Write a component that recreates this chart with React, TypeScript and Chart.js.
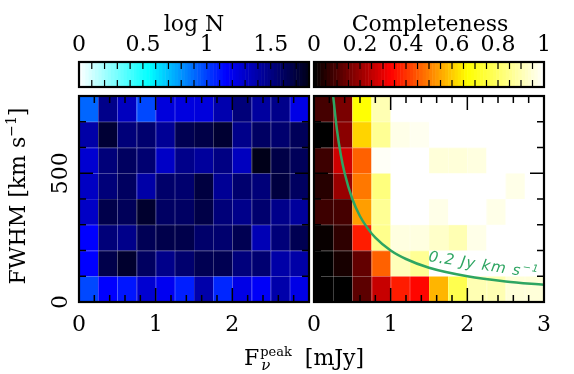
import { useEffect, useRef } from 'react';
import { Chart, registerables } from 'chart.js';
Chart.register(...registerables);

// ---------- data ----------
// lower edges of the peak-flux bins [mJy] and FWHM bins [km/s]
const FLUX_BINS = [0, 0.25, 0.5, 0.75, 1.0, 1.25, 1.5, 1.75, 2.0, 2.25, 2.5, 2.75];
const FLUX_BIN_WIDTH = 0.25;
const FWHM_BINS = [0, 100, 200, 300, 400, 500, 600, 700];
const FWHM_BIN_WIDTH = 100;

// log N per cell, one row per FWHM bin (0-100 first)
const LOG_N_0 = [0.98, 1.15, 1.1, 1.28, 1.19, 1.08, 1.39, 1.06, 1.22, 1.17, 1.39, 1.22];
const LOG_N_100 = [1.15, 1.66, 1.74, 1.6, 1.48, 1.56, 1.64, 1.64, 1.52, 1.55, 1.4, 1.4];
const LOG_N_200 = [1.15, 1.53, 1.48, 1.63, 1.66, 1.66, 1.57, 1.56, 1.64, 1.36, 1.53, 1.64];
const LOG_N_300 = [1.31, 1.66, 1.62, 1.74, 1.59, 1.59, 1.67, 1.53, 1.48, 1.56, 1.48, 1.43];
const LOG_N_400 = [1.32, 1.53, 1.6, 1.4, 1.57, 1.56, 1.69, 1.45, 1.56, 1.53, 1.69, 1.6];
const LOG_N_500 = [1.28, 1.53, 1.6, 1.55, 1.31, 1.48, 1.43, 1.5, 1.33, 1.8, 1.67, 1.62];
const LOG_N_600 = [1.4, 1.72, 1.53, 1.56, 1.45, 1.64, 1.67, 1.73, 1.48, 1.59, 1.56, 1.62];
const LOG_N_700 = [0.91, 1.48, 1.33, 0.98, 1.25, 1.24, 1.25, 1.38, 1.53, 1.42, 1.48, 1.22];
const LOG_N_ROWS = [LOG_N_0, LOG_N_100, LOG_N_200, LOG_N_300, LOG_N_400, LOG_N_500, LOG_N_600, LOG_N_700];

// completeness per cell, one row per FWHM bin (0-100 first)
const COMP_0 = [0.0, 0.0, 0.12, 0.26, 0.37, 0.34, 0.57, 0.77, 0.9, 0.9, 0.95, 0.95];
const COMP_100 = [0.0, 0.03, 0.13, 0.46, 0.91, 0.86, 1, 1, 1, 1, 1, 1];
const COMP_200 = [0.01, 0.06, 0.37, 0.85, 0.96, 0.96, 0.93, 0.9, 0.97, 1, 1, 1];
const COMP_300 = [0.08, 0.09, 0.54, 0.86, 1, 1, 0.97, 1, 1, 0.97, 1, 1];
const COMP_400 = [0.05, 0.2, 0.49, 0.83, 1, 1, 1, 1, 1, 1, 0.97, 1];
const COMP_500 = [0.08, 0.27, 0.46, 0.99, 1, 1, 0.95, 0.95, 0.96, 1, 1, 1];
const COMP_600 = [0.0, 0.18, 0.61, 0.86, 0.97, 0.98, 1, 1, 1, 1, 1, 1];
const COMP_700 = [0.09, 0.16, 0.67, 0.9, 1, 1, 1, 1, 1, 1, 1, 1];
const COMP_ROWS = [COMP_0, COMP_100, COMP_200, COMP_300, COMP_400, COMP_500, COMP_600, COMP_700];

// 0.2 Jy km/s line
const CURVE_FLUX = [0.25, 0.3, 0.35, 0.4, 0.5, 0.6, 0.7, 0.8, 1.0, 1.2, 1.5, 2.0, 2.5, 3.0];
const CURVE_FWHM = [800, 667, 571, 500, 400, 333, 286, 250, 200, 167, 133, 100, 80, 67];
const CURVE_LABEL = '0.2 Jy km s';

// ticks / labels
const X_TICKS_LEFT = ['0', '1', '2'];
const X_TICKS_RIGHT = ['0', '1', '2', '3'];
const Y_TICKS = ['0', '500'];
const CB_LEFT_TICKS = ['0', '0.5', '1', '1.5'];
const CB_RIGHT_TICKS = ['0', '0.2', '0.4', '0.6', '0.8', '1'];
const CB_LEFT_TITLE = 'log N';
const CB_RIGHT_TITLE = 'Completeness';
const X_RANGE = [0, 3];
const Y_RANGE = [0, 800];
const LOG_N_RANGE = [0, 1.8];
const COMP_RANGE = [0, 1];

// ---------- styles ----------
const SERIF = '"DejaVu Serif", serif';
const GREEN = '#2ea562';
type Stop = [number, number[]];
const BLUE_STOPS: Stop[] = [[0, [255, 255, 255]], [0.55, [0, 255, 255]], [1.15, [0, 0, 255]], [1.8, [0, 0, 25]]];
const HOT_STOPS: Stop[] = [[0, [0, 0, 0]], [1 / 3, [255, 0, 0]], [2 / 3, [255, 255, 0]], [1, [255, 255, 255]]];

function cmap(stops: Stop[], v: number) {
  if (v <= stops[0][0]) return `rgb(${stops[0][1].join(',')})`;
  for (let i = 1; i < stops.length; i++) {
    if (v <= stops[i][0]) {
      const [a, ca] = stops[i - 1];
      const [b, cb] = stops[i];
      const t = (v - a) / (b - a);
      const c = ca.map((x, k) => Math.round(x + (cb[k] - x) * t));
      return `rgb(${c.join(',')})`;
    }
  }
  return `rgb(${stops[stops.length - 1][1].join(',')})`;
}

function drawHeat(chart: any, rows: number[][], stops: Stop[]) {
  const { ctx } = chart;
  const xs = chart.scales.x;
  const ys = chart.scales.y;
  ctx.save();
  rows.forEach((row, j) => {
    row.forEach((v, i) => {
      const x0 = xs.getPixelForValue(FLUX_BINS[i]);
      const x1 = xs.getPixelForValue(FLUX_BINS[i] + FLUX_BIN_WIDTH);
      const y0 = ys.getPixelForValue(FWHM_BINS[j] + FWHM_BIN_WIDTH);
      const y1 = ys.getPixelForValue(FWHM_BINS[j]);
      ctx.fillStyle = cmap(stops, v);
      ctx.fillRect(x0, y0, x1 - x0, y1 - y0);
    });
  });
  ctx.strokeStyle = 'rgba(255,255,255,0.13)';
  ctx.lineWidth = 1;
  const a = chart.chartArea;
  ctx.beginPath();
  FLUX_BINS.forEach((f) => {
    const x = Math.round(xs.getPixelForValue(f)) + 0.5;
    ctx.moveTo(x, a.top);
    ctx.lineTo(x, a.bottom);
  });
  FWHM_BINS.forEach((w) => {
    const y = Math.round(ys.getPixelForValue(w)) + 0.5;
    ctx.moveTo(a.left, y);
    ctx.lineTo(a.right, y);
  });
  ctx.stroke();
  ctx.restore();
}

function drawFrameAndTicks(chart: any) {
  const { ctx, chartArea: a } = chart;
  const xs = chart.scales.x;
  const ys = chart.scales.y;
  ctx.save();
  ctx.strokeStyle = '#000';
  ctx.lineWidth = 1.5;
  ctx.beginPath();
  for (let k = 1; k < 15; k++) {
    const v = k * 0.2;
    const major = k % 5 === 0;
    const len = major ? 14 : 7;
    const x = xs.getPixelForValue(v);
    ctx.moveTo(x, a.bottom);
    ctx.lineTo(x, a.bottom - len);
    ctx.moveTo(x, a.top);
    ctx.lineTo(x, a.top + len);
  }
  for (let k = 1; k < 8; k++) {
    const v = k * 100;
    const len = v === 500 ? 14 : 7;
    const y = ys.getPixelForValue(v);
    ctx.moveTo(a.left, y);
    ctx.lineTo(a.left + len, y);
    ctx.moveTo(a.right, y);
    ctx.lineTo(a.right - len, y);
  }
  ctx.stroke();
  ctx.lineWidth = 2.2;
  ctx.strokeRect(a.left, a.top, a.right - a.left, a.bottom - a.top);
  ctx.restore();
}

function drawColorbar(chart: any, stops: Stop[], range: number[], tickStep: number, labels: string[], title: string, titleX: number) {
  const { ctx, chartArea: a } = chart;
  const xc = chart.scales.xc;
  const top = a.top - 34;
  const bot = a.top - 9;
  ctx.save();
  const N = 72;
  for (let k = 0; k < N; k++) {
    const v0 = range[0] + ((range[1] - range[0]) * k) / N;
    const v1 = range[0] + ((range[1] - range[0]) * (k + 1)) / N;
    const x0 = xc.getPixelForValue(v0);
    const x1 = xc.getPixelForValue(v1);
    ctx.fillStyle = cmap(stops, (v0 + v1) / 2);
    ctx.fillRect(x0, top, x1 - x0 + 0.5, bot - top);
  }
  ctx.strokeStyle = '#000';
  ctx.lineWidth = 1.2;
  ctx.beginPath();
  const nT = Math.round((range[1] - range[0]) / tickStep);
  for (let k = 1; k < nT; k++) {
    const x = xc.getPixelForValue(range[0] + k * tickStep);
    ctx.moveTo(x, top);
    ctx.lineTo(x, top + 7);
    ctx.moveTo(x, bot);
    ctx.lineTo(x, bot - 7);
  }
  ctx.stroke();
  ctx.lineWidth = 2.2;
  ctx.strokeRect(xc.left, top, xc.right - xc.left, bot - top);
  ctx.fillStyle = '#000';
  ctx.font = `22px ${SERIF}`;
  ctx.textAlign = 'center';
  ctx.textBaseline = 'alphabetic';
  labels.forEach((l) => {
    ctx.fillText(l, xc.getPixelForValue(parseFloat(l)), top - 11);
  });
  ctx.fillText(title, titleX, 31);
  ctx.restore();
}

function drawXLabels(chart: any, labels: string[]) {
  const { ctx, chartArea: a } = chart;
  const xs = chart.scales.x;
  ctx.save();
  ctx.fillStyle = '#000';
  ctx.font = `22px ${SERIF}`;
  ctx.textAlign = 'center';
  ctx.textBaseline = 'alphabetic';
  labels.forEach((l) => ctx.fillText(l, xs.getPixelForValue(parseFloat(l)), a.bottom + 29));
  ctx.restore();
}

function drawSup(ctx: any, parts: { t: string; size: number; dy: number }[], startX: number, y: number) {
  let x = startX;
  parts.forEach((p) => {
    ctx.font = `${p.size}px ${SERIF}`;
    ctx.fillText(p.t, x, y + p.dy);
    x += ctx.measureText(p.t).width;
  });
}

const leftPlugin = {
  id: 'leftPanel',
  beforeDatasetsDraw(chart: any) {
    drawHeat(chart, LOG_N_ROWS, BLUE_STOPS);
  },
  afterDraw(chart: any) {
    drawFrameAndTicks(chart);
    drawColorbar(chart, BLUE_STOPS, LOG_N_RANGE, 0.1, CB_LEFT_TICKS, CB_LEFT_TITLE, 194);
    drawXLabels(chart, X_TICKS_LEFT);
    const { ctx, chartArea: a } = chart;
    const ys = chart.scales.y;
    ctx.save();
    ctx.fillStyle = '#000';
    ctx.textBaseline = 'alphabetic';
    // y tick labels (rotated)
    Y_TICKS.forEach((l) => {
      ctx.save();
      ctx.translate(a.left - 12, ys.getPixelForValue(parseFloat(l)));
      ctx.rotate(-Math.PI / 2);
      ctx.font = `22px ${SERIF}`;
      ctx.textAlign = 'center';
      ctx.fillText(l, 0, 0);
      ctx.restore();
    });
    // y title
    ctx.save();
    ctx.translate(25, 196);
    ctx.rotate(-Math.PI / 2);
    ctx.textAlign = 'left';
    const yParts = [
      { t: 'FWHM [km s', size: 22, dy: 0 },
      { t: '\u22121', size: 14, dy: -9 },
      { t: ']', size: 22, dy: 0 },
    ];
    let w = 0;
    yParts.forEach((p) => {
      ctx.font = `${p.size}px ${SERIF}`;
      w += ctx.measureText(p.t).width;
    });
    drawSup(ctx, yParts, -w / 2, 0);
    ctx.restore();
    // x title: F_nu^peak [mJy]
    ctx.textAlign = 'left';
    ctx.font = `22px ${SERIF}`;
    const wF = ctx.measureText('F').width;
    ctx.font = `13px ${SERIF}`;
    const wPeak = ctx.measureText('peak').width;
    ctx.font = `22px ${SERIF}`;
    const wRest = ctx.measureText('  [mJy]').width;
    const total = wF + wPeak + wRest;
    const x0 = 304 - total / 2;
    const base = 365;
    ctx.font = `22px ${SERIF}`;
    ctx.fillText('F', x0, base);
    ctx.font = `13px ${SERIF}`;
    ctx.fillText('peak', x0 + wF + 1, base - 9);
    ctx.font = `italic 15px ${SERIF}`;
    ctx.fillText('\u03bd', x0 + wF + 2, base + 5);
    ctx.font = `22px ${SERIF}`;
    ctx.fillText('  [mJy]', x0 + wF + wPeak, base);
    ctx.restore();
  },
};

const rightPlugin = {
  id: 'rightPanel',
  beforeDatasetsDraw(chart: any) {
    drawHeat(chart, COMP_ROWS, HOT_STOPS);
  },
  afterDraw(chart: any) {
    const { ctx } = chart;
    // curve label
    ctx.save();
    ctx.fillStyle = GREEN;
    ctx.translate(428, 261);
    ctx.rotate((9 * Math.PI) / 180);
    ctx.font = 'italic 15px "DejaVu Sans", sans-serif';
    ctx.textAlign = 'left';
    (ctx as any).letterSpacing = '1px';
    ctx.fillText(CURVE_LABEL, 0, 0);
    const w = ctx.measureText(CURVE_LABEL).width;
    ctx.font = 'italic 10px "DejaVu Sans", sans-serif';
    ctx.fillText('\u22121', w + 1, -6);
    ctx.restore();
    drawFrameAndTicks(chart);
    drawColorbar(chart, HOT_STOPS, COMP_RANGE, 0.05, CB_RIGHT_TICKS, CB_RIGHT_TITLE, 430);
    drawXLabels(chart, X_TICKS_RIGHT);
  },
};

function baseScales(cbRange: number[]) {
  return {
    x: { type: 'linear', min: X_RANGE[0], max: X_RANGE[1], display: false },
    y: { type: 'linear', min: Y_RANGE[0], max: Y_RANGE[1], display: false },
    xc: { type: 'linear', axis: 'x', position: 'top', min: cbRange[0], max: cbRange[1], display: false },
  };
}

export default function App() {
  const leftRef = useRef<HTMLCanvasElement>(null);
  const rightRef = useRef<HTMLCanvasElement>(null);
  useEffect(() => {
    const common = {
      responsive: false,
      animation: false,
      devicePixelRatio: 1,
      events: [],
      plugins: { legend: { display: false }, tooltip: { enabled: false } },
    };
    const left = new Chart(leftRef.current as HTMLCanvasElement, {
      type: 'scatter',
      data: { datasets: [] },
      options: {
        ...common,
        layout: { padding: { left: 79, right: 265, top: 96, bottom: 72 } },
        scales: baseScales(LOG_N_RANGE),
      } as any,
      plugins: [leftPlugin],
    });
    const right = new Chart(rightRef.current as HTMLCanvasElement, {
      type: 'scatter',
      data: {
        datasets: [
          {
            data: CURVE_FLUX.map((f, i) => ({ x: f, y: CURVE_FWHM[i] })),
            showLine: true,
            borderColor: GREEN,
            borderWidth: 2.5,
            pointRadius: 0,
            cubicInterpolationMode: 'monotone',
            clip: 0,
          } as any,
        ],
      },
      options: {
        ...common,
        layout: { padding: { left: 314, right: 30, top: 96, bottom: 72 } },
        scales: baseScales(COMP_RANGE),
      } as any,
      plugins: [rightPlugin],
    });
    return () => {
      left.destroy();
      right.destroy();
    };
  }, []);
  return (
    <div style={{ position: 'fixed', left: 0, top: 0, width: 574, height: 374, background: '#fff' }}>
      <canvas ref={leftRef} width={574} height={374} style={{ position: 'absolute', left: 0, top: 0 }} />
      <canvas ref={rightRef} width={574} height={374} style={{ position: 'absolute', left: 0, top: 0 }} />
    </div>
  );
}
